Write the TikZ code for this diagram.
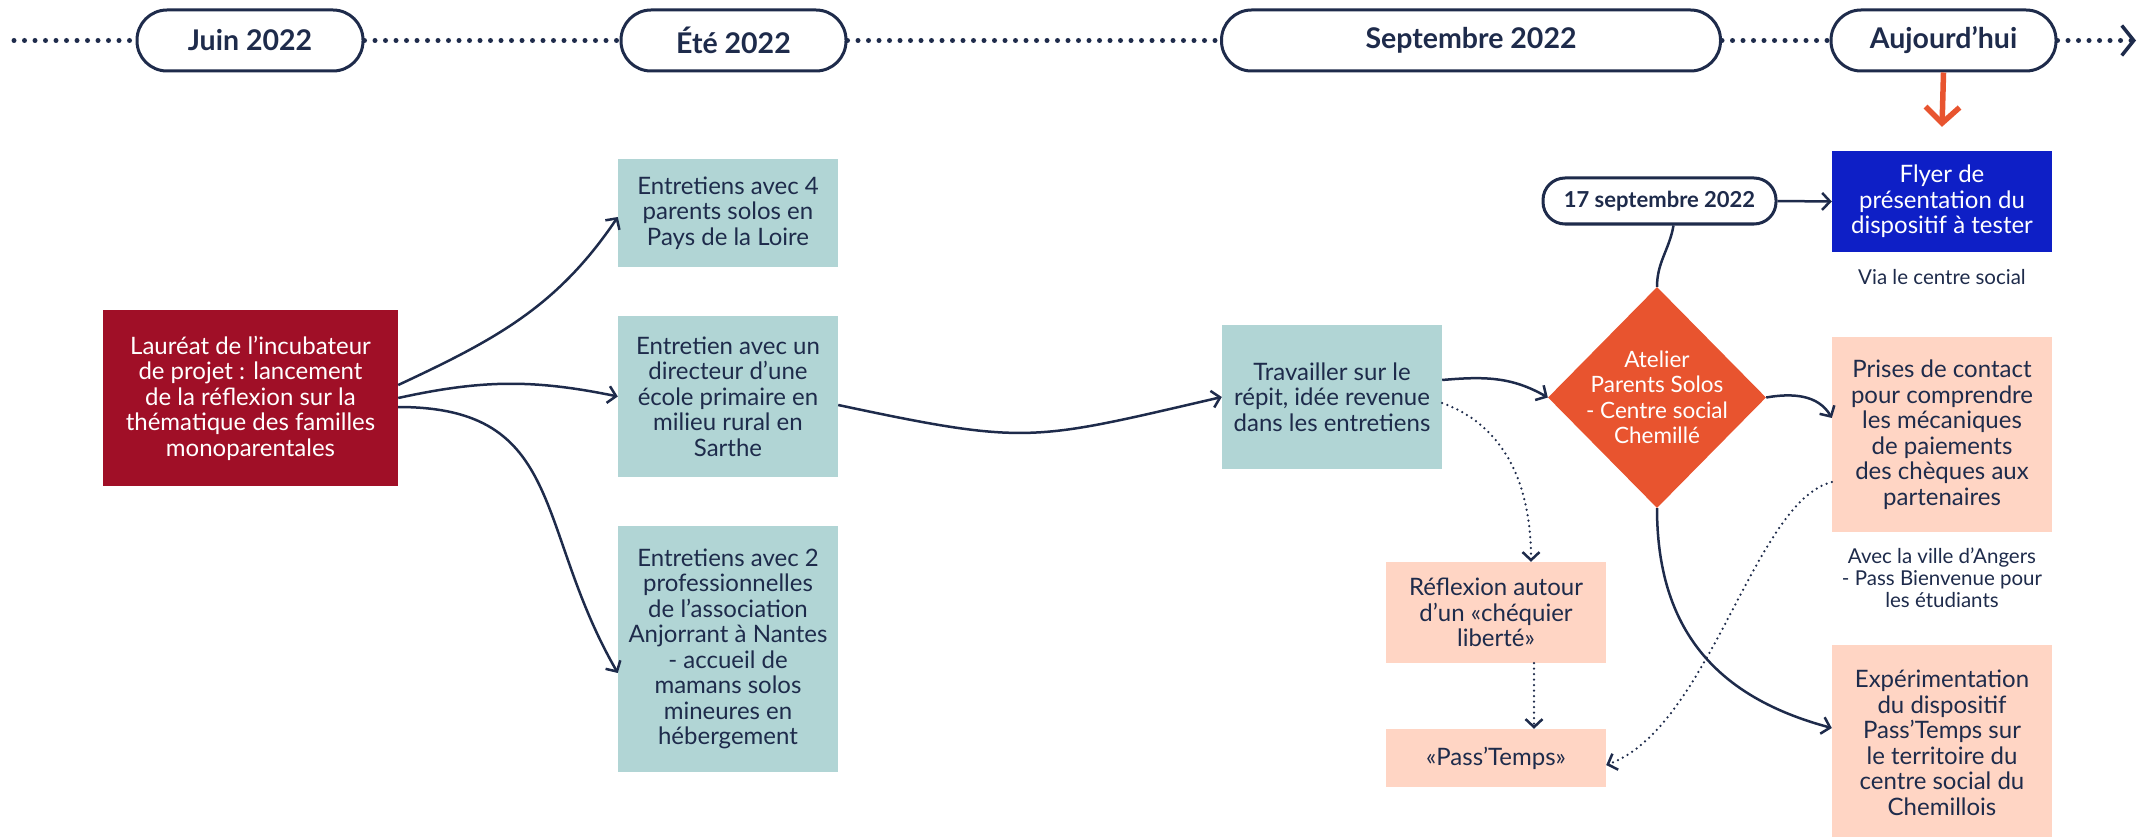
\documentclass[tikz,border=0pt]{standalone}
\usepackage{fontspec}
\setmainfont{Lato}
\usetikzlibrary{arrows.meta,shapes.geometric}
\definecolor{navy}{HTML}{1E2B4B}
\definecolor{redc}{HTML}{A00F27}
\definecolor{tealc}{HTML}{B1D5D5}
\definecolor{peachc}{HTML}{FFD5C4}
\definecolor{orangec}{HTML}{E8542F}
\definecolor{bluec}{HTML}{0E1FC6}
\begin{document}
\begin{tikzpicture}[x=1pt,y=-1pt,
  pill/.style={draw=navy, line width=3pt, rounded corners=30pt, minimum height=61pt, inner sep=0pt, fill=white, text=navy, font=\bfseries\fontsize{28.5}{32}\selectfont},
  basebox/.style={inner sep=0pt, align=center, text=navy, font=\fontsize{24}{25.5}\selectfont},
  tealbox/.style={basebox, fill=tealc, minimum width=220pt},
  peachbox/.style={basebox, fill=peachc, minimum width=220pt},
  lbl/.style={align=center, text=navy, inner sep=0pt, font=\fontsize{20.5}{22}\selectfont},
  conn/.style={draw=navy, line width=2.5pt, -{Straight Barb[length=8pt,width=17pt]}},
  dconn/.style={conn, line width=2.5pt, dash pattern=on 0pt off 5.5pt, line cap=round},
  tline/.style={draw=navy, line width=5pt, line cap=round, dash pattern=on 0pt off 10.5pt}
]
\useasboundingbox (0,0) rectangle (2141,837);

% timeline
\coordinate (tlstart) at (14,40.5);
\coordinate (tlend) at (2136,40.5);
\node[pill, minimum width=226pt] (juin) at (250,40.5) {Juin 2022};
\node[pill, minimum width=225pt] (ete) at (733.5,40.5) {Été 2022};
\node[pill, minimum width=499pt] (sept) at (1471,40.5) {Septembre 2022};
\node[pill, minimum width=225pt] (auj) at (1943.5,40.5) {Aujourd’hui};
\draw[tline] (tlstart) -- (juin.west);
\draw[tline] (juin.east) -- (ete.west);
\draw[tline] (ete.east) -- (sept.west);
\draw[tline] (sept.east) -- (auj.west);
\draw[tline, -{Straight Barb[length=12pt,width=30pt,line width=3.5pt]}] (auj.east) -- (tlend);

% boxes
\node[basebox, fill=redc, text=white, minimum width=295pt, minimum height=176pt] (red) at (250.5,398)
  {Lauréat de l’incubateur\\de projet : lancement\\de la réflexion sur la\\thématique des familles\\monoparentales};
\node[tealbox, minimum height=108pt] (b1) at (728,213) {Entretiens avec 4\\parents solos en\\Pays de la Loire};
\node[tealbox, minimum height=161pt] (b2) at (728,396.5) {Entretien avec un\\directeur d’une\\école primaire en\\milieu rural en\\Sarthe};
\node[tealbox, minimum height=246pt] (b3) at (728,649) {Entretiens avec 2\\professionnelles\\de l’association\\Anjorrant à Nantes\\- accueil de\\mamans solos\\mineures en\\hébergement};
\node[tealbox, minimum height=144pt] (trav) at (1332,397) {Travailler sur le\\répit, idée revenue\\dans les entretiens};

\node[diamond, fill=orangec, minimum width=218pt, minimum height=221pt, inner sep=0pt] (dia) at (1657,397.5) {};
\node[basebox, text=white, font=\fontsize{22.5}{25.5}\selectfont] (diatext) at (dia.center) {Atelier\\Parents Solos\\- Centre social\\Chemillé};

\node[pill, minimum width=233pt, minimum height=46pt, rounded corners=22pt, font=\bfseries\fontsize{22}{26}\selectfont] (sep17) at (1659.5,201) {17 septembre 2022};
\node[basebox, fill=bluec, text=white, minimum width=220pt, minimum height=101pt] (flyer) at (1942,201.5) {Flyer de\\présentation du\\dispositif à tester};
\node[lbl] (via) at (1942,277) {Via le centre social};

\node[peachbox, minimum height=195pt] (prises) at (1942,434.5) {Prises de contact\\pour comprendre\\les mécaniques\\de paiements\\des chèques aux\\partenaires};
\node[lbl] (avec) at (1942,578) {Avec la ville d’Angers\\- Pass Bienvenue pour\\les étudiants};
\node[peachbox, minimum height=196pt] (exp) at (1942,743) {Expérimentation\\du dispositif\\Pass’Temps sur\\le territoire du\\centre social du\\Chemillois};

\node[peachbox, minimum height=101pt] (refl) at (1496,612.5) {Réflexion autour\\d’un «chéquier\\liberté»};
\node[peachbox, minimum height=58pt] (pass) at (1496,758) {«Pass’Temps»};

% connectors
\draw[draw=orangec, line width=5.5pt, -{Straight Barb[length=16pt,width=34pt]}] (auj.south) -- ([yshift=24pt]flyer.north);
\draw[conn] ([yshift=13pt]red.east) to[out=25,in=236] ([yshift=-4pt]b1.west);
\draw[conn] (red.east) to[bend left=12] (b2.west);
\draw[conn] ([yshift=-9pt]red.east) to[out=0,in=120,looseness=1.25] ([yshift=-24pt]b3.west);
\draw[conn] ([yshift=-8.5pt]b2.east) to[out=-12,in=193,looseness=1.3] (trav.west);
\draw[conn] ([yshift=17pt]trav.east) to[out=5,in=150] (dia.west);
\draw[dconn] ([yshift=-6pt]trav.east) to[out=-20,in=90] ([xshift=35pt]refl.north);
\draw[dconn] ([xshift=38pt]refl.south) -- ([xshift=38pt]pass.north);
\draw[dconn] ([yshift=-47.5pt]prises.west) .. controls +(194:80pt) and +(20:110pt) .. ([yshift=-7pt]pass.east);
\draw[conn] (dia.east) to[out=10,in=120] ([yshift=16.5pt]prises.west);
\draw[conn] (dia.south) to[out=-90,in=165,looseness=1.1] ([yshift=15pt]exp.west);
\draw[draw=navy, line width=2.5pt] ([xshift=14pt]sep17.south) to[out=-100,in=90] (dia.north);
\draw[conn] (sep17.east) -- (flyer.west);
\end{tikzpicture}
\end{document}
